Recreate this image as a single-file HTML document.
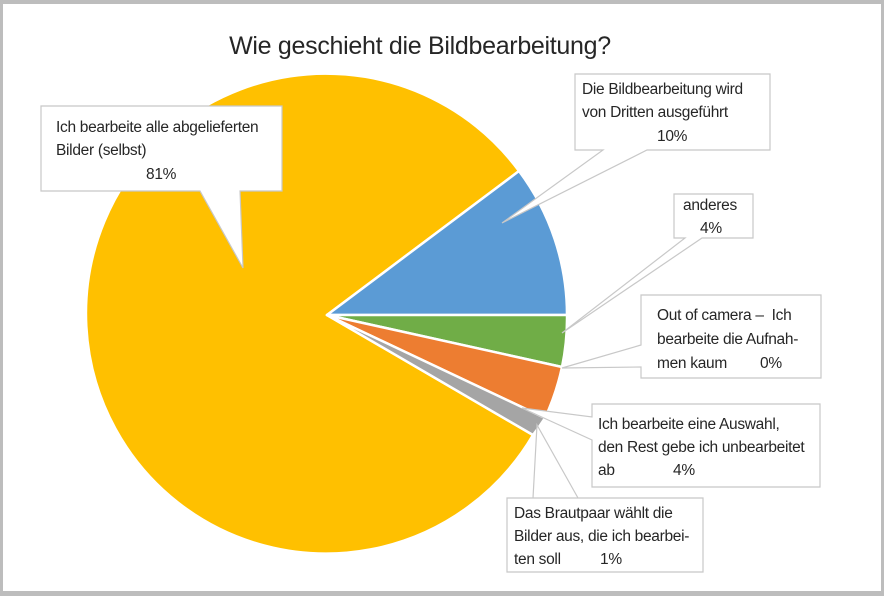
<!DOCTYPE html>
<html><head><meta charset="utf-8"><style>
html,body{margin:0;padding:0;background:#fff}
svg{display:block}
text{font-family:"Liberation Sans",sans-serif;fill:#262626;white-space:pre}
</style></head><body>
<svg width="884" height="596" viewBox="0 0 884 596" xml:space="preserve">
<rect x="0" y="0" width="884" height="596" fill="#bdbdbd"/>
<rect x="3" y="4" width="878" height="587" fill="#fff"/>
<text x="420" y="54" font-size="25" text-anchor="middle" letter-spacing="-0.3">Wie geschieht die Bildbearbeitung?</text>
<g stroke="#fff" stroke-width="2.5" stroke-linejoin="round">
<path d="M327,315 L533,435 A240,240 0 1 1 519,171 Z" fill="#ffc000"/>
<path d="M327,315 L519,171 A240,240 0 0 1 567,315 Z" fill="#5b9bd5"/>
<path d="M327,315 L567,315 A240,240 0 0 1 562,367 Z" fill="#70ad47"/>
<path d="M327,315 L562,367 A240,240 0 0 1 545,418 Z" fill="#ed7d31"/>
<path d="M327,315 L545,418 A240,240 0 0 1 533,435 Z" fill="#a5a5a5"/>
</g>
<g fill="#fff" stroke="#c8c8c8" stroke-width="1.2">
<path d="M41,106 H282 V191 H240 L243,268 L200,191 H41 Z"/>
<path d="M575,74 H770 V150 H647 L502,223 L603,150 H575 Z"/>
<path d="M674,194 H753 V238 H702 L562,333 L685,238 H674 Z"/>
<path d="M641,295 H821 V378 H641 V367 L562,368 L641,345 Z"/>
<path d="M592,404 H820 V487 H592 V440 L522,408 L592,417 Z"/>
<path d="M507,498 H703 V572 H507 V498 H533 L537,425 L578,498 Z"/>
</g>
<g font-size="15.5" letter-spacing="-0.3">
<text x="56" y="132">Ich bearbeite alle abgelieferten</text>
<text x="56" y="155">Bilder (selbst)</text>
<text x="146" y="179">81%</text>
<text x="582" y="94">Die Bildbearbeitung wird</text>
<text x="582" y="117">von Dritten ausgeführt</text>
<text x="657" y="141">10%</text>
<text x="683" y="210">anderes</text>
<text x="700" y="233">4%</text>
<text x="657" y="320">Out of camera –  Ich</text>
<text x="657" y="344">bearbeite die Aufnah-</text>
<text x="657" y="368">men kaum</text>
<text x="760" y="368">0%</text>
<text x="598" y="429">Ich bearbeite eine Auswahl,</text>
<text x="598" y="452">den Rest gebe ich unbearbeitet</text>
<text x="598" y="475">ab</text>
<text x="673" y="475">4%</text>
<text x="514" y="518">Das Brautpaar wählt die</text>
<text x="514" y="541">Bilder aus, die ich bearbei-</text>
<text x="514" y="564">ten soll</text>
<text x="600" y="564">1%</text>
</g>
</svg>
</body></html>
